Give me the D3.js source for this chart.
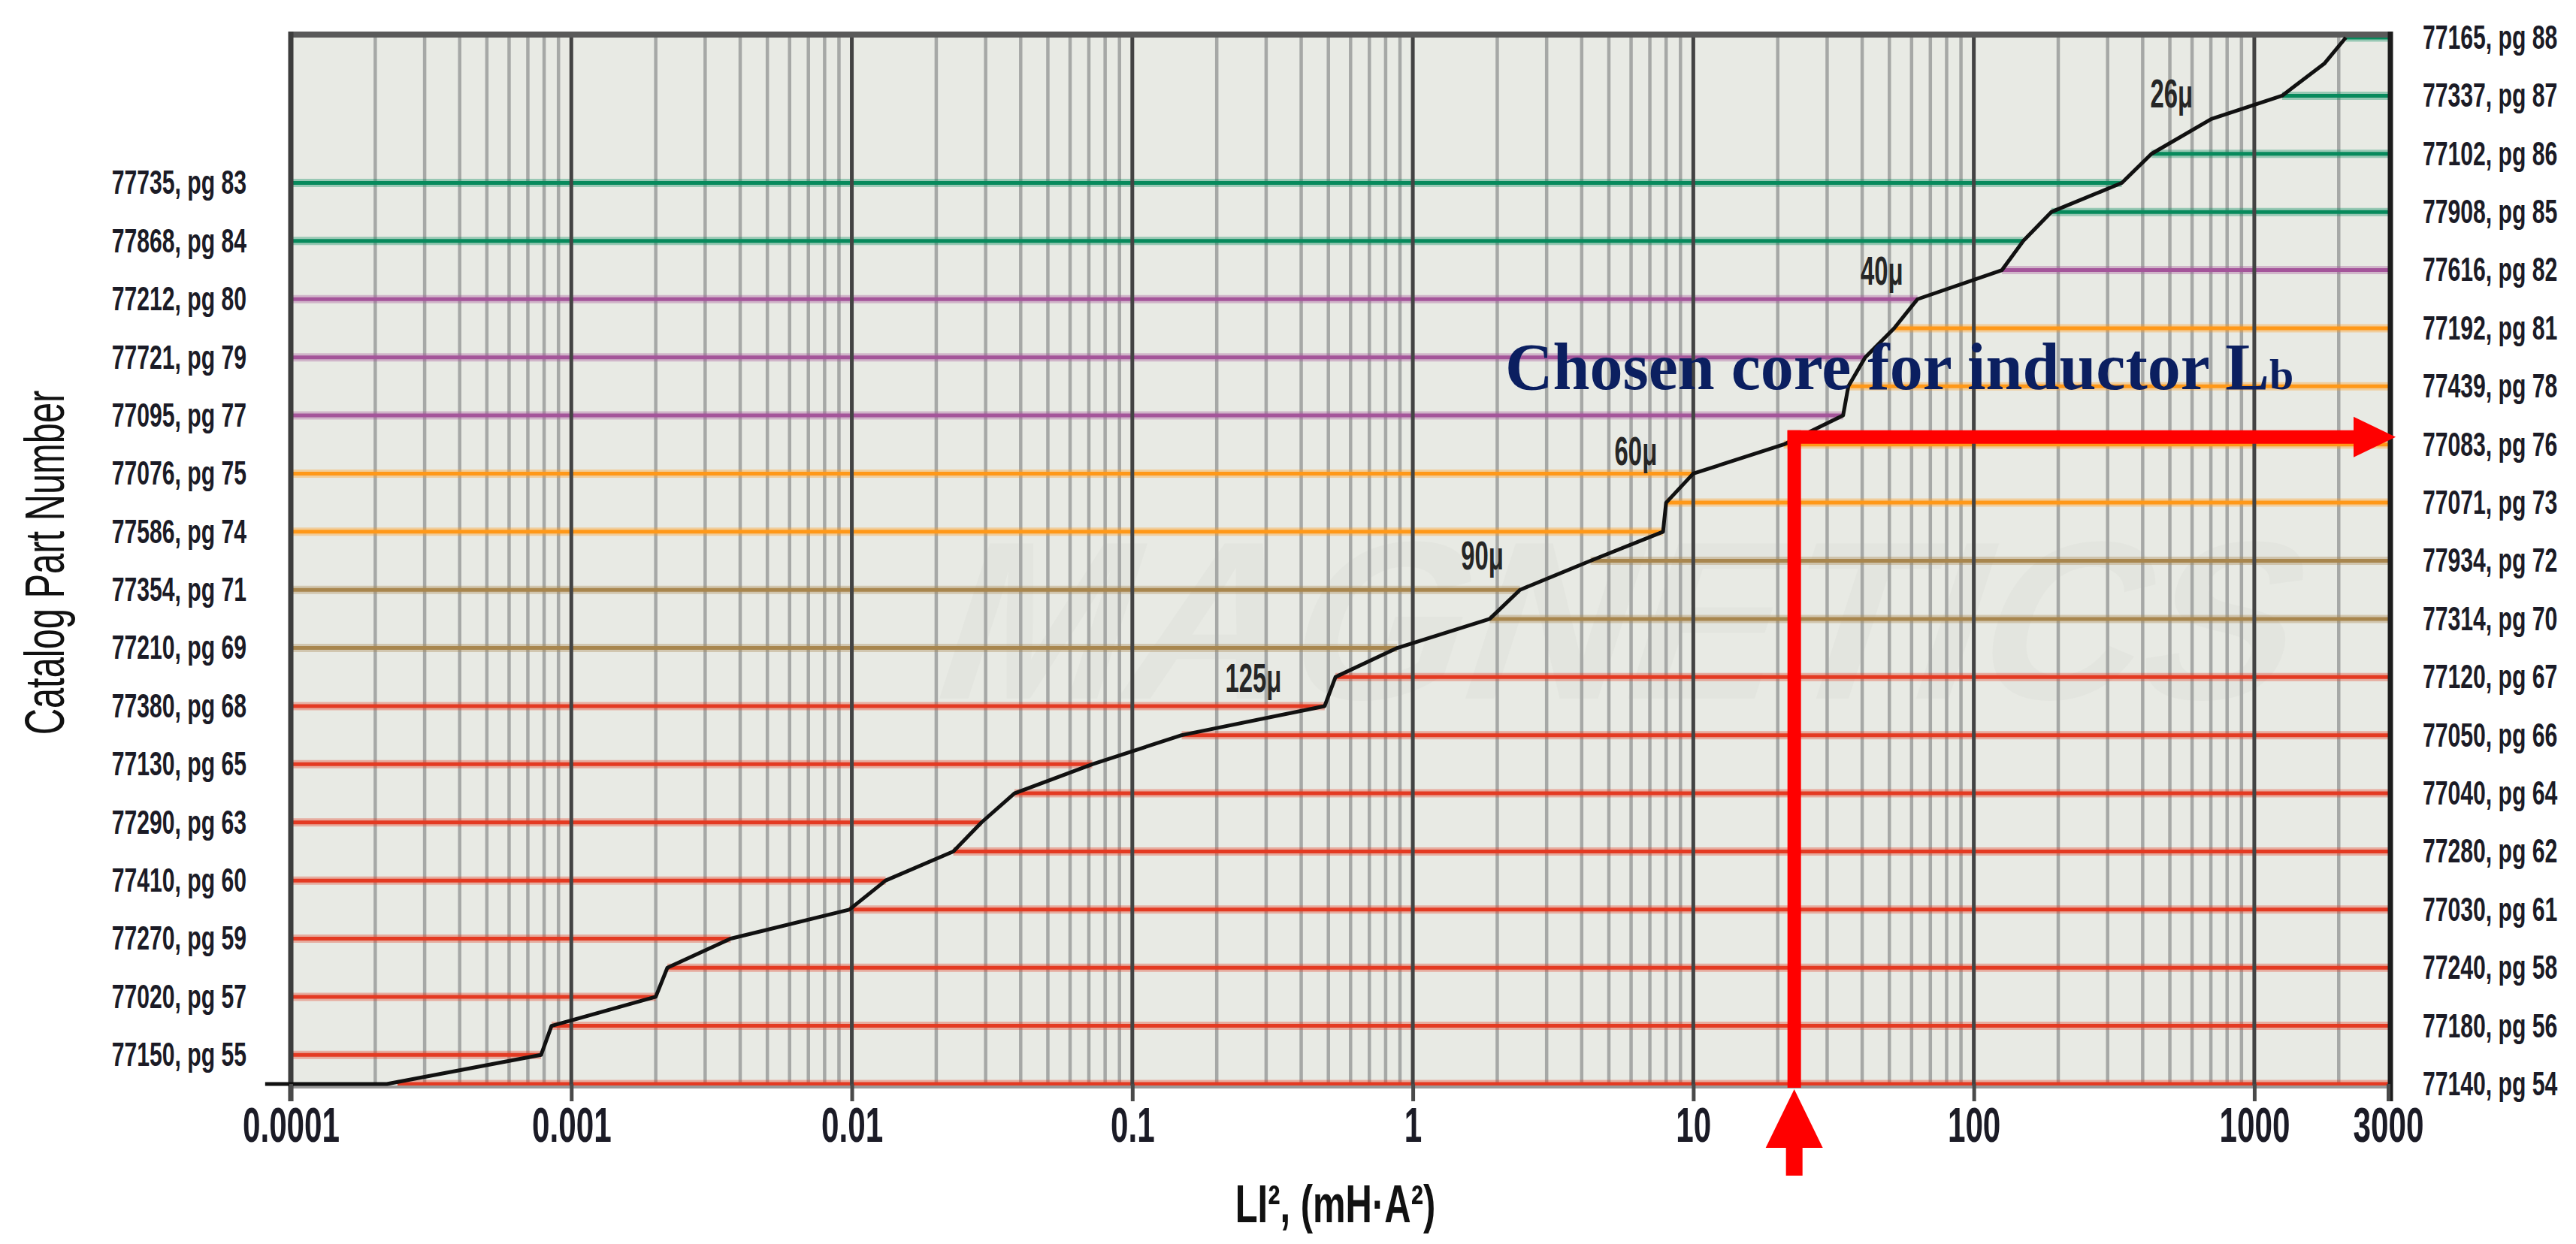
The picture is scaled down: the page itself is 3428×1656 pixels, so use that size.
<!DOCTYPE html>
<html><head><meta charset="utf-8">
<script src="https://cdn.jsdelivr.net/npm/d3@7"></script>
<style>html,body{margin:0;padding:0;background:#fff;} svg{display:block;}</style>
</head><body>
<svg id="chart" width="3428" height="1656"></svg>
<script>
// ---------------- data ----------------
const xTickValues = [0.0001, 0.001, 0.01, 0.1, 1, 10, 100, 1000, 3000];
const xTickLabels = ["0.0001", "0.001", "0.01", "0.1", "1", "10", "100", "1000", "3000"];

// catalog cores, bottom (rank 0) to top (rank 36)
const coreRank  = [0, 1, 2, 3, 4, 5, 6, 7, 8, 9, 10, 11, 12, 13, 14, 15, 16, 17, 18, 19, 20, 21, 22, 23, 24, 25, 26, 27, 28, 29, 30, 31, 32, 34, 36];
const coreLabel = ["77140, pg 54", "77150, pg 55", "77180, pg 56", "77020, pg 57", "77240, pg 58", "77270, pg 59",
  "77030, pg 61", "77410, pg 60", "77280, pg 62", "77290, pg 63", "77040, pg 64", "77130, pg 65", "77050, pg 66",
  "77380, pg 68", "77120, pg 67", "77210, pg 69", "77314, pg 70", "77354, pg 71", "77934, pg 72", "77586, pg 74",
  "77071, pg 73", "77076, pg 75", "77083, pg 76", "77095, pg 77", "77439, pg 78", "77721, pg 79", "77192, pg 81",
  "77212, pg 80", "77616, pg 82", "77868, pg 84", "77908, pg 85", "77735, pg 83", "77102, pg 86", "77337, pg 87",
  "77165, pg 88"];
const coreSide  = ["R","L","R","L","R","L","R","L","R","L","R","L","R","L","R","L","R","L","R","L","R","L","R","L","R","L","R","L","R","L","R","L","R","R","R"];
const coreGroup = ["red","red","red","red","red","red","red","red","red","red","red","red","red","red","red",
  "brown","brown","brown","brown","orange","orange","orange","orange","purple","orange","purple","orange",
  "purple","purple","green","green","green","green","green","green"];
// LI² (mH·A²) where each core line meets the curve
const coreLI = [0.00024, 0.00078, 0.00085, 0.0020, 0.0022, 0.0037, 0.0098, 0.0132, 0.023, 0.029, 0.038, 0.072,
  0.15, 0.485, 0.53, 0.88, 1.88, 2.41, 4.3, 7.8, 8.0, 10, 21, 34.2, 35.7, 41, 52, 63, 126, 150, 189, 337, 430, 1256, 2120];

// selection curve vertices
const curveLI   = [0.000081, 0.00022, 0.00078, 0.00085, 0.0020, 0.0022, 0.0037, 0.0098, 0.0132, 0.023, 0.029, 0.038,
  0.072, 0.15, 0.485, 0.53, 0.88, 1.88, 2.41, 4.3, 7.8, 8.0, 10, 21, 34.2, 35.7, 41, 52, 63, 126, 150, 189, 337, 430,
  703, 1256, 1775, 2120];
const curveRank = [0, 0, 1, 2, 3, 4, 5, 6, 7, 8, 9, 10, 11, 12, 13, 14, 15, 16, 17, 18, 19, 20, 21, 22, 23, 24, 25, 26,
  27, 28, 29, 30, 31, 32, 33.2, 34, 35.1, 36];

// permeability labels
const permLabels = ["125\u03bc", "90\u03bc", "60\u03bc", "40\u03bc", "26\u03bc"];
const permLI     = [0.27, 1.77, 6.24, 47, 507];
const permRank   = [13.5, 17.7, 21.3, 27.5, 33.6];

// chosen core annotation
const chosenLI = 22.9;
const chosenRank = 22;
const chosenText = "Chosen core for inductor L";
const chosenSub = "b";

const groupColor = {red: "#e43a22", brown: "#a8864e", orange: "#ff9818", purple: "#a4559a", green: "#078a5c"};

// ---------------- drawing ----------------
const svg = d3.select("#chart");
const X0 = 387, X1 = 3178, Y0 = 1443, Y1 = 50, PT = 46, PB = 1446;
const x = d3.scaleLog().domain([0.0001, 3000]).range([X0, X1]);
const y = d3.scaleLinear().domain([0, 36]).range([Y0, Y1]);
const FONT = "'Liberation Sans', Arial, sans-serif";

svg.append("rect").attr("width", 3428).attr("height", 1656).attr("fill", "#ffffff");
svg.append("rect").attr("x", X0).attr("y", PT).attr("width", X1 - X0).attr("height", PB - PT).attr("fill", "#e8eae4");

// faint watermark
svg.append("text").attr("transform", "translate(2130,930) skewX(-18)")
  .attr("text-anchor", "middle").attr("font-family", FONT).attr("font-weight", "bold")
  .attr("font-size", 300).attr("fill", "#000").attr("opacity", 0.015).text("MAGNETICS");

// grid values
const minor = [], major = [];
for (let e = -4; e <= 3; e++) {
  for (let k = 1; k <= 9; k++) {
    const v = +(k * Math.pow(10, e)).toPrecision(6);
    if (v >= 3000) continue;
    if (k === 1) { if (e > -4) major.push(v); } else minor.push(v);
  }
}
svg.append("g").selectAll("line").data(minor).join("line")
  .attr("x1", d => x(d)).attr("x2", d => x(d)).attr("y1", PT).attr("y2", PB)
  .attr("stroke", "#a6a8a6").attr("stroke-width", 4.5);

// core lines
const cores = coreRank.map((r, i) => ({r, label: coreLabel[i], side: coreSide[i], g: coreGroup[i], li: coreLI[i]}));
const lineG = svg.append("g");
lineG.selectAll("line.halo").data(cores).join("line").attr("class", "halo")
  .attr("x1", d => d.side === "L" ? X0 : x(d.li)).attr("x2", d => d.side === "L" ? x(d.li) : X1)
  .attr("y1", d => y(d.r)).attr("y2", d => y(d.r))
  .attr("stroke", d => groupColor[d.g]).attr("stroke-width", 11).attr("opacity", 0.35);
lineG.selectAll("line.core").data(cores).join("line").attr("class", "core")
  .attr("x1", d => d.side === "L" ? X0 : x(d.li)).attr("x2", d => d.side === "L" ? x(d.li) : X1)
  .attr("y1", d => y(d.r)).attr("y2", d => y(d.r))
  .attr("stroke", d => groupColor[d.g]).attr("stroke-width", 5);

// major grid
svg.append("g").selectAll("line").data(major).join("line")
  .attr("x1", d => x(d)).attr("x2", d => x(d)).attr("y1", PT).attr("y2", PB)
  .attr("stroke", "#434343").attr("stroke-width", 5);

// borders
svg.append("line").attr("x1", X0).attr("x2", X1 + 6).attr("y1", PT).attr("y2", PT).attr("stroke", "#5a5a5a").attr("stroke-width", 8);
svg.append("line").attr("x1", X0).attr("x2", X1).attr("y1", PB + 1).attr("y2", PB + 1).attr("stroke", "#9a9a9a").attr("stroke-width", 4);
svg.append("line").attr("x1", X0).attr("x2", X0).attr("y1", 42).attr("y2", 1466).attr("stroke", "#3d3d3d").attr("stroke-width", 7);
svg.append("line").attr("x1", X1 + 3).attr("x2", X1 + 3).attr("y1", 42).attr("y2", 1466).attr("stroke", "#1c1c1c").attr("stroke-width", 7);

// curve
const curvePts = curveLI.map((v, i) => [v, curveRank[i]]);
svg.append("path").datum(curvePts)
  .attr("d", d3.line().x(d => x(d[0])).y(d => y(d[1])))
  .attr("fill", "none").attr("stroke", "#111").attr("stroke-width", 5).attr("stroke-linejoin", "round");

// x axis
const xAxis = svg.append("g").attr("transform", `translate(0,${Y0})`)
  .call(d3.axisBottom(x).tickValues(xTickValues).tickFormat((d, i) => xTickLabels[i]).tickSizeInner(23).tickSizeOuter(0));
xAxis.select(".domain").remove();
xAxis.selectAll(".tick line").attr("stroke", "#4a4a4a").attr("stroke-width", 5);
xAxis.selectAll(".tick text").attr("y", 0).attr("dy", 0)
  .attr("transform", "translate(0,77) scale(0.66,1)")
  .attr("font-family", FONT).attr("font-weight", "bold").attr("font-size", 64).attr("fill", "#1b1b26");

// y axes (core labels)
const leftCores = cores.filter(d => d.side === "L");
const rightCores = cores.filter(d => d.side === "R");
const yl = svg.append("g").attr("transform", `translate(${X0},0)`)
  .call(d3.axisLeft(y).tickValues(leftCores.map(d => d.r)).tickFormat(r => leftCores.find(d => d.r === r).label).tickSize(0));
const yr = svg.append("g").attr("transform", `translate(${X1},0)`)
  .call(d3.axisRight(y).tickValues(rightCores.map(d => d.r)).tickFormat(r => rightCores.find(d => d.r === r).label).tickSize(0));
[yl, yr].forEach(g => g.select(".domain").remove());
yl.selectAll(".tick text").attr("x", 0).attr("transform", "translate(-59,0) scale(0.67,1)")
  .attr("font-family", FONT).attr("font-weight", "bold").attr("font-size", 45).attr("fill", "#1b1b26");
yr.selectAll(".tick text").attr("x", 0).attr("transform", "translate(46,0) scale(0.67,1)")
  .attr("font-family", FONT).attr("font-weight", "bold").attr("font-size", 45).attr("fill", "#1b1b26");

// permeability labels
svg.append("g").selectAll("text").data(permLabels).join("text")
  .attr("transform", (d, i) => `translate(${x(permLI[i])},${y(permRank[i])}) scale(0.62,1)`)
  .attr("text-anchor", "middle").attr("font-family", FONT).attr("font-weight", "bold")
  .attr("font-size", 53).attr("fill", "#262626").text(d => d);

// axis titles
svg.append("text").attr("transform", "translate(85,749) rotate(-90) scale(0.66,1)")
  .attr("text-anchor", "middle").attr("font-family", FONT).attr("font-size", 74).attr("fill", "#111")
  .text("Catalog Part Number");
svg.append("text").attr("transform", "translate(1777,1627) scale(0.7,1)")
  .attr("text-anchor", "middle").attr("font-family", FONT).attr("font-weight", "bold").attr("font-size", 70).attr("fill", "#111")
  .text("LI\u00b2, (mH\u00b7A\u00b2)");

// chosen core annotation
const RED = "#ff0000";
const cx = x(chosenLI), cy = y(chosenRank) - 10;
svg.append("line").attr("x1", cx).attr("x2", cx).attr("y1", cy - 9).attr("y2", PB + 2)
  .attr("stroke", RED).attr("stroke-width", 18);
svg.append("line").attr("x1", cx - 9).attr("x2", 3134).attr("y1", cy).attr("y2", cy)
  .attr("stroke", RED).attr("stroke-width", 18);
svg.append("path").attr("d", `M3132,${cy - 27} L3188,${cy} L3132,${cy + 27} Z`).attr("fill", RED);
svg.append("path").attr("d", `M${cx},1450 L${cx + 38},1528 L${cx - 38},1528 Z`).attr("fill", RED);
svg.append("rect").attr("x", cx - 11).attr("y", 1526).attr("width", 22).attr("height", 39).attr("fill", RED);

const ct = svg.append("text").attr("x", 2003).attr("y", 518)
  .attr("font-family", "'Liberation Serif', 'Times New Roman', serif").attr("font-weight", "bold")
  .attr("font-size", 88).attr("fill", "#0b1f60");
ct.append("tspan").text(chosenText);
ct.append("tspan").attr("font-size", 58).text(chosenSub);
</script>
</body></html>
